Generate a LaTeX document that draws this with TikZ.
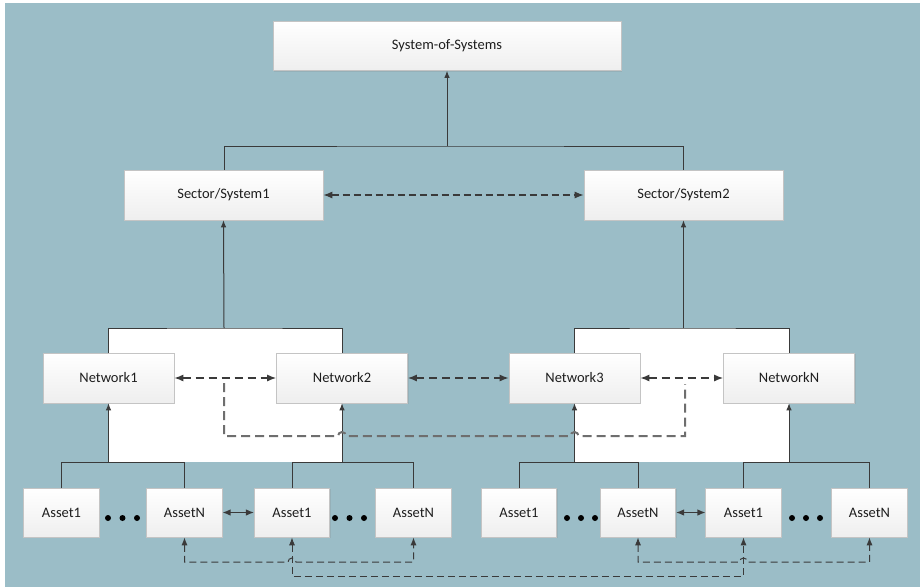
\documentclass[tikz,border=0pt]{standalone}
\usepackage{fontspec}
\setmainfont{Carlito}
\usepackage{xcolor}
\usetikzlibrary{arrows.meta, shadows}
\definecolor{sosbg}{RGB}{155, 189, 199}
\definecolor{sosline}{RGB}{58, 58, 58}
\definecolor{soshop}{RGB}{110, 110, 110}
\definecolor{sosedge}{RGB}{196, 196, 196}
\definecolor{sostext}{RGB}{30, 30, 30}

\tikzset{
  blockbox/.style={draw=sosedge, line width=0.6pt, top color=white, bottom color=gray!13,
    minimum height=49pt, inner sep=0pt, text=sostext, font=\fontsize{14.5}{17}\selectfont,
    drop shadow={opacity=0.2, shadow xshift=1pt, shadow yshift=-1pt}},
  netbox/.style={blockbox, minimum width=131pt, minimum height=50pt},
  assetbox/.style={blockbox, minimum width=75.5pt},
  treeline/.style={draw=sosline, line width=1pt},
  uparrow/.style={treeline, -{Latex[length=7pt,width=5.5pt]}},
  peerlink/.style={draw=sosline, line width=1.4pt, dash pattern=on 8pt off 5pt,
    {Latex[length=9pt,width=7pt]}-{Latex[length=9pt,width=7pt]}},
  hopline/.style={draw=soshop, line width=2pt, dash pattern=on 9pt off 5pt},
  assetlink/.style={draw=sosline, line width=1pt, dash pattern=on 7pt off 4pt,
    {Latex[length=8pt,width=6pt]}-{Latex[length=8pt,width=6pt]}}
}

\begin{document}
\begin{tikzpicture}[x=1pt, y=-1pt]
  % background
  \fill[white] (0,0) rectangle (920,587);
  \fill[sosbg] (5,3) rectangle (920,587);
  \useasboundingbox (0,0) rectangle (920,587);

  % white panels behind the network groups
  \fill[white] (108.5,328) rectangle (342,462);
  \fill[white] (574.5,328) rectangle (789,462);

  % junctions
  \coordinate (top) at (447,146);
  \coordinate (mid1) at (224,328);
  \coordinate (mid2) at (683.5,328);
  \coordinate (jn1) at (108.5,462);
  \coordinate (jn2) at (342,462);
  \coordinate (jn3) at (574.5,462);
  \coordinate (jn4) at (789,462);

  % tree lines
  \draw[treeline] (224,195) |- (top) -| (683.5,195);
  \draw[treeline] (108.5,378) |- (mid1) -| (342,378);
  \draw[treeline] (574.5,378) |- (mid2) -| (789,378);
  \draw[treeline] (61.5,512) |- (jn1) -| (184.5,512);
  \draw[treeline] (292,512) |- (jn2) -| (413.5,512);
  \draw[treeline] (519,512) |- (jn3) -| (638,512);
  \draw[treeline] (743.5,512) |- (jn4) -| (869.5,512);

  % boxes
  \node[blockbox, minimum width=348pt] (sos) at (447,46) {System-of-Systems};
  \node[blockbox, minimum width=199pt, minimum height=50pt] (sec1) at (223.5,195) {Sector/System1};
  \node[blockbox, minimum width=199pt, minimum height=50pt] (sec2) at (683.5,195) {Sector/System2};

  \node[netbox] (net1) at (108.5,378) {Network1};
  \node[netbox] (net2) at (342,378) {Network2};
  \node[netbox] (net3) at (574.5,378) {Network3};
  \node[netbox] (netN) at (789,378) {NetworkN};

  \node[assetbox] (a1) at (61.5,512.5) {Asset1};
  \node[assetbox] (a2) at (184.5,512.5) {AssetN};
  \node[assetbox] (a3) at (292,512.5) {Asset1};
  \node[assetbox] (a4) at (413.5,512.5) {AssetN};
  \node[assetbox] (a5) at (519,512.5) {Asset1};
  \node[assetbox] (a6) at (638,512.5) {AssetN};
  \node[assetbox] (a7) at (743.5,512.5) {Asset1};
  \node[assetbox] (a8) at (869.5,512.5) {AssetN};

  % dots between assets
  \foreach \dx in {108,122.5,137,335,349.5,364,567,581,595,792,806,820}
    \fill[black] (\dx,518) circle (3pt);

  % upward arrows
  \draw[uparrow] (top) -- (sos.south);
  \draw[uparrow] (mid1) -- (sec1.south);
  \draw[uparrow] (mid2) -- (sec2.south);
  \draw[uparrow] (jn1) -- (net1.south);
  \draw[uparrow] (jn2) -- (net2.south);
  \draw[uparrow] (jn3) -- (net3.south);
  \draw[uparrow] (jn4) -- (netN.south);

  % peer links
  \draw[peerlink, line width=1.2pt, dash pattern=on 7pt off 4pt] (sec1.east) -- (sec2.west);
  \draw[peerlink] (net1.east) -- (net2.west);
  \draw[peerlink] (net2.east) -- (net3.west);
  \draw[peerlink] (net3.east) -- (netN.west);
  \draw[treeline, line width=1.2pt, {Latex[length=8pt,width=6.5pt]}-{Latex[length=8pt,width=6.5pt]}] (a2.east) -- (a3.west);
  \draw[treeline, line width=1.2pt, {Latex[length=8pt,width=6.5pt]}-{Latex[length=8pt,width=6.5pt]}] (a6.east) -- (a7.west);

  % cross link between network groups
  \draw[hopline] (224,383) -- (224,436) -- (338,436) arc[start angle=180, end angle=0, radius=4pt]
    -- (570.5,436) arc[start angle=180, end angle=0, radius=4pt] -- (685,436) -- (685,384);

  % asset links
  \draw[assetlink] (a2.south) -- (184.5,562) -- (288,562) arc[start angle=180, end angle=0, radius=4pt]
    -- (413.5,562) -- (a4.south);
  \draw[assetlink] (a6.south) -- (638,562) -- (739.5,562) arc[start angle=180, end angle=0, radius=4pt]
    -- (869.5,562) -- (a8.south);
  \draw[assetlink] (a3.south) -- (292,576) -- (743.5,576) -- (a7.south);
\end{tikzpicture}
\end{document}
